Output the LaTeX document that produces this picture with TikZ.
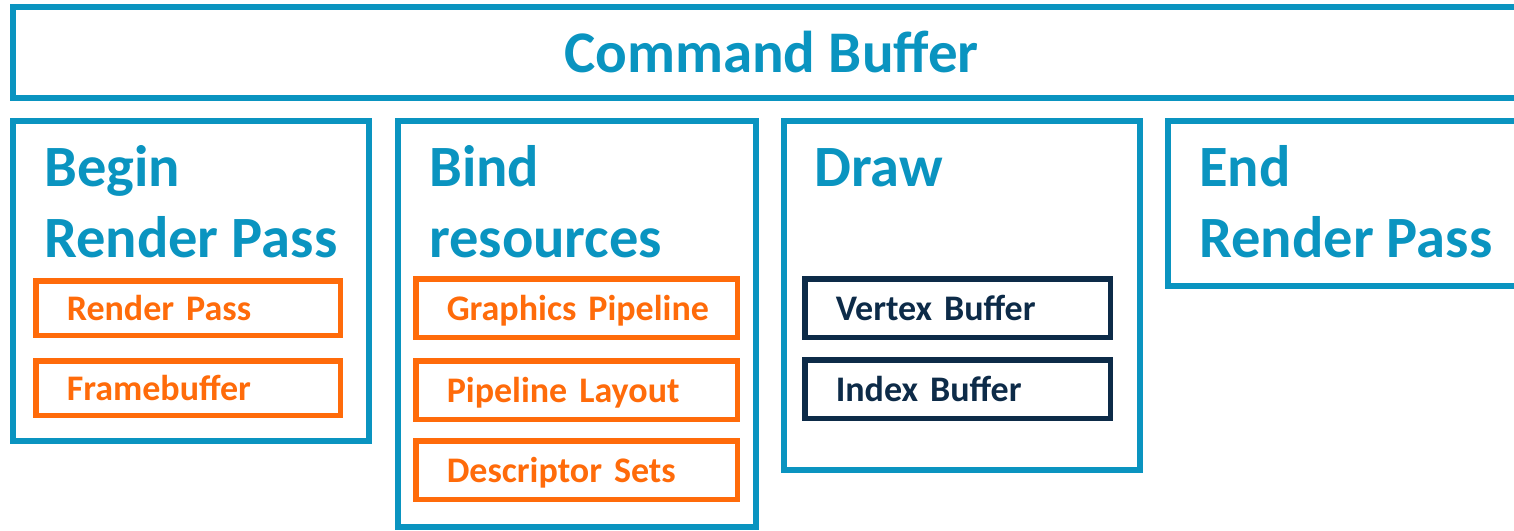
\documentclass[tikz,border=0pt]{standalone}
\usepackage{fontspec}
\setmainfont{Carlito}
\usetikzlibrary{positioning}

\definecolor{cbblue}{HTML}{0A94C0}
\definecolor{cborange}{HTML}{FF6B0A}
\definecolor{cbnavy}{HTML}{0D2B48}

\begin{document}
\begin{tikzpicture}[
      x=1pt, y=-1pt,
      stage/.style={
         rectangle,
         draw=cbblue,
         line width=6pt,
         anchor=north west,
         inner sep=0pt},
      stagetitle/.style={
         anchor=base west,
         align=left,
         inner sep=0pt,
         text=cbblue,
         font=\fontsize{58.5}{70.5}\selectfont\bfseries},
      item/.style={
         rectangle,
         line width=5.5pt,
         anchor=north west,
         inner xsep=31pt,
         text height=30pt,
         text depth=6pt,
         align=left,
         font=\fontsize{36}{44}\selectfont\bfseries},
      resitem/.style={item, draw=cborange, text=cborange},
      bufitem/.style={item, draw=cbnavy, text=cbnavy},
      node distance=18pt
      ]
      \useasboundingbox (0,0) rectangle (1514,530);
      \clip (0,0) rectangle (1514,530);

      % command buffer
      \node[stage, minimum width=1517pt, minimum height=90.5pt,
            text=cbblue, font=\fontsize{59}{70}\selectfont\bfseries] (cmd) at (10,4) {Command Buffer};

      % stages
      \node[stage, minimum width=356pt, minimum height=320pt] (begin) at (10,118) {};
      \node[stage, minimum width=357.5pt, minimum height=406pt] (bind) at (395,118) {};
      \node[stage, minimum width=355.5pt, minimum height=348.5pt] (draw) at (781,118) {};
      \node[stage, minimum width=400pt, minimum height=164.5pt] (end) at (1165,118) {};

      \node[stagetitle] (begint) at (44,257) {Begin\\Render Pass};
      \node[stagetitle] (bindt) at (429,257) {Bind\\resources};
      \node[stagetitle] (drawt) at (814,186.5) {Draw};
      \node[stagetitle] (endt) at (1199,257) {End\\Render Pass};

      % begin render pass
      \node[resitem, minimum width=304.5pt, minimum height=54.5pt, text width=242.5pt] (rp) at (33,278) {Render Pass};
      \node[resitem, minimum width=304.5pt, minimum height=54.5pt, text width=242.5pt, below=20pt of rp] (fb) {Framebuffer};

      % bind resources
      \node[resitem, minimum width=321.5pt, minimum height=58.5pt, text width=259.5pt] (gp) at (413,276) {Graphics~Pipeline};
      \node[resitem, minimum width=321.5pt, minimum height=58.5pt, text width=259.5pt, below=of gp] (pl) {Pipeline Layout};
      \node[resitem, minimum width=321.5pt, minimum height=58.5pt, text width=259.5pt, below=16pt of pl] (ds) {Descriptor Sets};

      % draw
      \node[bufitem, minimum width=305.5pt, minimum height=58.5pt, text width=243.5pt] (vb) at (802,276) {Vertex Buffer};
      \node[bufitem, minimum width=305.5pt, minimum height=58.5pt, text width=243.5pt, below=17pt of vb] (ib) {Index Buffer};
    \end{tikzpicture}
\end{document}
